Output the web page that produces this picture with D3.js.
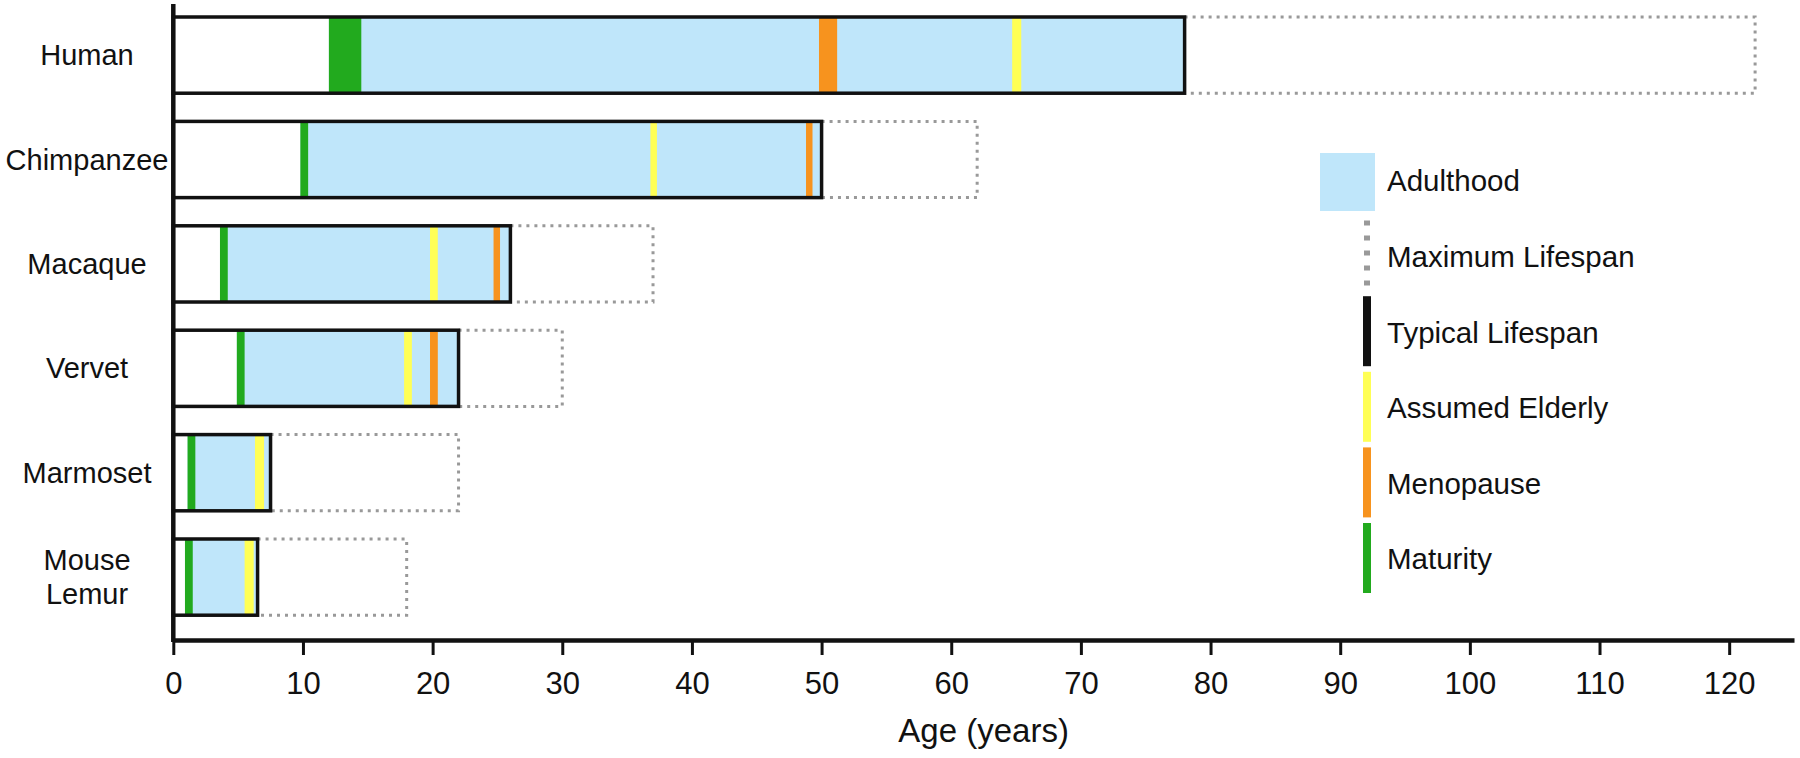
<!DOCTYPE html>
<html>
<head>
<meta charset="utf-8">
<script src="https://cdn.jsdelivr.net/npm/d3@7"></script>
<style>
  html, body { margin: 0; padding: 0; background: #fff; }
  svg { display: block; font-family: "Liberation Sans", Arial, Helvetica, sans-serif; }
</style>
</head>
<body>
<svg id="chart" width="1800" height="758"></svg>
<script>
// species, top to bottom
const species = ["Human", "Chimpanzee", "Macaque", "Vervet", "Marmoset", "Mouse Lemur"];

// ages in years
const typicalLifespan = [78, 50, 26, 22, 7.5, 6.5];
const maximumLifespan = [122, 62, 37, 30, 22, 18];

// markers as [from, to] age ranges, null = not shown
const maturity = [[12, 14.5], [9.8, 10.4], [3.6, 4.2], [4.9, 5.5], [1.1, 1.7], [0.9, 1.5]];
const menopause = [[49.8, 51.2], [48.8, 49.3], [24.7, 25.2], [19.8, 20.4], null, null];
const elderly = [[64.7, 65.4], [36.8, 37.3], [19.8, 20.4], [17.8, 18.4], [6.3, 7.0], [5.5, 6.2]];

const xTicks = [0, 10, 20, 30, 40, 50, 60, 70, 80, 90, 100, 110, 120];

const legendLabels = ["Adulthood", "Maximum Lifespan", "Typical Lifespan", "Assumed Elderly", "Menopause", "Maturity"];

const colors = {
  adult: "#bfe6fa",
  max: "#999999",
  typical: "#111111",
  elderly: "#ffff55",
  menopause: "#f7931e",
  maturity: "#22aa1e"
};

const svg = d3.select("#chart");

const x = d3.scaleLinear().domain([0, 125]).range([173.3, 1794]);

const y = d3
  .scaleBand()
  .domain(species)
  .range([4, 640])
  .paddingInner(0.27)
  .paddingOuter(0.181)
  .align(0.344);

const rows = species.map((name, i) => ({
  name,
  typical: typicalLifespan[i],
  max: maximumLifespan[i],
  markers: [
    { kind: "maturity", r: maturity[i] },
    { kind: "elderly", r: elderly[i] },
    { kind: "menopause", r: menopause[i] }
  ].filter((m) => m.r)
}));

const plot = svg.append("g").attr("class", "plot-area");

// max lifespan: dotted box from typical to max
plot
  .selectAll(".max")
  .data(rows)
  .join("path")
  .attr("class", "max")
  .attr("fill", "none")
  .attr("stroke", colors.max)
  .attr("stroke-width", 3)
  .attr("stroke-dasharray", "3 5")
  .attr("d", (d) => {
    const x0 = x(d.typical), x1 = x(d.max);
    const y0 = y(d.name), y1 = y(d.name) + y.bandwidth();
    return `M${x0},${y0}H${x1}V${y1}H${x0}`;
  });

// adulthood: from maturity to typical lifespan
plot
  .selectAll(".adult")
  .data(rows)
  .join("rect")
  .attr("class", "adult")
  .attr("fill", colors.adult)
  .attr("x", (d) => x(d.markers[0].r[0]))
  .attr("width", (d) => x(d.typical) - x(d.markers[0].r[0]))
  .attr("y", (d) => y(d.name))
  .attr("height", y.bandwidth());

// life-stage markers
plot
  .selectAll(".row")
  .data(rows)
  .join("g")
  .attr("class", "row")
  .selectAll("rect")
  .data((d) => d.markers.map((m) => ({ ...m, name: d.name })))
  .join("rect")
  .attr("fill", (d) => colors[d.kind])
  .attr("x", (d) => x(d.r[0]))
  .attr("width", (d) => x(d.r[1]) - x(d.r[0]))
  .attr("y", (d) => y(d.name))
  .attr("height", y.bandwidth());

// typical lifespan outline
plot
  .selectAll(".typical")
  .data(rows)
  .join("rect")
  .attr("class", "typical")
  .attr("fill", "none")
  .attr("stroke", colors.typical)
  .attr("stroke-width", 3.5)
  .attr("x", x(0))
  .attr("width", (d) => x(d.typical) - x(0))
  .attr("y", (d) => y(d.name))
  .attr("height", y.bandwidth());

// axes
const xAxis = svg
  .append("g")
  .attr("class", "x-axis")
  .attr("transform", `translate(0,640)`)
  .call(d3.axisBottom(x).tickValues(xTicks).tickSize(15).tickPadding(17).tickSizeOuter(0));
xAxis.select(".domain").attr("stroke", "#111").attr("stroke-width", 4.5);
xAxis.selectAll(".tick line").attr("stroke", "#111").attr("stroke-width", 3);
xAxis.selectAll(".tick text").attr("fill", "#111").style("font-size", "31px");

svg
  .append("line")
  .attr("class", "y-axis")
  .attr("x1", x(0))
  .attr("x2", x(0))
  .attr("y1", 4)
  .attr("y2", 642)
  .attr("stroke", "#111")
  .attr("stroke-width", 4.5);

// species labels
const labels = svg
  .append("g")
  .selectAll("text")
  .data(species)
  .join("text")
  .attr("x", 87)
  .attr("y", (d) => y(d) + y.bandwidth() / 2)
  .attr("text-anchor", "middle")
  .attr("fill", "#111")
  .style("font-size", "29px");
labels.each(function (d) {
  const words = d.split(" ");
  const t = d3.select(this);
  words.forEach((w, i) => {
    t.append("tspan")
      .attr("x", 87)
      .attr("dy", i === 0 ? `${0.35 - (words.length - 1) * 0.58}em` : "1.16em")
      .text(w);
  });
});

svg
  .append("text")
  .attr("x", (x.range()[0] + x.range()[1]) / 2)
  .attr("y", 742)
  .attr("text-anchor", "middle")
  .attr("fill", "#111")
  .style("font-size", "33px")
  .text("Age (years)");

// legend
const legend = svg.append("g").attr("class", "legend");
const legendY = (i) => 181 + i * 75.6;
const legendKinds = ["adult", "max", "typical", "elderly", "menopause", "maturity"];

legend
  .append("rect")
  .attr("x", 1320)
  .attr("y", 153)
  .attr("width", 55)
  .attr("height", 58)
  .attr("fill", colors.adult);

legend
  .selectAll(".swatch")
  .data(legendKinds.slice(1))
  .join("line")
  .attr("class", "swatch")
  .attr("x1", 1367)
  .attr("x2", 1367)
  .attr("y1", (d, i) => legendY(i + 1) - 36)
  .attr("y2", (d, i) => legendY(i + 1) + 34)
  .attr("stroke", (d) => colors[d])
  .attr("stroke-width", (d) => (d === "max" ? 6 : 8))
  .attr("stroke-dasharray", (d) => (d === "max" ? "5 10" : null));

legend
  .selectAll("text")
  .data(legendLabels)
  .join("text")
  .attr("x", 1387)
  .attr("y", (d, i) => legendY(i))
  .attr("dy", "0.35em")
  .attr("fill", "#111")
  .style("font-size", "29.5px")
  .text((d) => d);
</script>
</body>
</html>
